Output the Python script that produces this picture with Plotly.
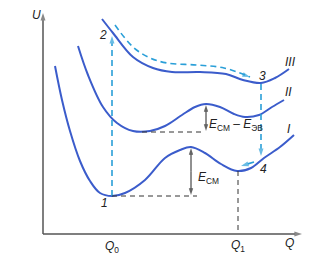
import plotly.graph_objects as go

# Schematic coordinates (x: Q, y: U measured downward as in the picture frame)
curve_I_x = [55, 62, 70, 80, 90, 100, 112, 125, 145, 165, 180, 191, 205, 221, 237, 251, 264, 280, 294]
curve_I_y = [66, 100, 131, 161, 181, 193, 196, 193, 180, 158, 150, 147, 153, 164, 171, 168, 158, 147, 135]

curve_II_x = [78, 88, 103, 117, 133, 150, 165, 182, 195, 206, 220, 234, 245, 259, 272, 284]
curve_II_y = [46, 75, 107, 123, 131, 131, 126, 115, 107, 104, 107, 114, 117, 115, 107, 100]

curve_III_x = [102, 113, 133, 153, 172, 200, 226, 243, 261, 275, 289]
curve_III_y = [19, 33, 57, 68, 72, 72, 74, 80, 83, 78, 69]

path_2_3_x = [115, 133, 150, 167, 197, 224, 250]
path_2_3_y = [25, 47, 58, 63, 65, 68, 77]

Q0, Q1 = 112, 238
pt1_y, pt2_y = 196, 34
pt3_x, pt3_y, pt4_y = 261, 84, 156
barrier_I_top, barrier_II_top, min_II_y = 147, 104, 132

blue = "#3b5ccb"
lblue = "#2a9fd8"
dark = "#333333"

fig = go.Figure()

def line(xs, ys, color, width, dash=None, shape="linear", head=False, head_size=8):
    fig.add_trace(go.Scatter(
        x=xs, y=ys, mode="lines+markers" if head else "lines",
        line=dict(color=color, width=width, dash=dash, shape=shape),
        marker=dict(symbol="arrow", angleref="previous", color=color,
                    size=[0] * (len(xs) - 1) + [head_size], line=dict(width=0)) if head else None,
        hoverinfo="skip", showlegend=False))

for xs, ys in [(curve_I_x, curve_I_y), (curve_II_x, curve_II_y), (curve_III_x, curve_III_y)]:
    line(xs, ys, blue, 2, shape="spline")

# dashed curved path 2 -> 3
line(path_2_3_x, path_2_3_y, lblue, 1.6, dash="6px,4px", shape="spline", head=True)
# vertical 1 -> 2
line([Q0, Q0], [pt1_y, pt2_y + 2], lblue, 1.6, dash="6px,4px", head=True)
# vertical 3 -> 4
line([pt3_x, pt3_x], [pt3_y, pt4_y], lblue, 1.6, dash="6px,4px", head=True)
# relaxation 4 -> Q1
line([254, 241], [162, 166], lblue, 1.6, head=True)

# black dashed guides
line([Q0, 197], [pt1_y, pt1_y], dark, 1, dash="5px,4px")
line([142, 204], [min_II_y, min_II_y], dark, 1, dash="5px,4px")
line([Q1, Q1], [171, 234], dark, 1, dash="5px,4px")

# energy double arrows
mid_I = (barrier_I_top + pt1_y) / 2
line([191, 191], [mid_I, barrier_I_top + 1], "#222222", 1, head=True, head_size=7)
line([191, 191], [mid_I, pt1_y - 1], "#222222", 1, head=True, head_size=7)
mid_II = (barrier_II_top + min_II_y) / 2
line([206, 206], [mid_II, barrier_II_top + 1], "#222222", 1, head=True, head_size=7)
line([206, 206], [mid_II, min_II_y - 1], "#222222", 1, head=True, head_size=7)

# axes
line([43, 43], [234, 13], "#555555", 1.5, head=True, head_size=8)
line([43, 302], [234, 234], "#555555", 1.5, head=True, head_size=8)

ann = []
fnt = dict(family="Liberation Sans, Arial, sans-serif", size=12, color="#222222")
labels = [
    (36, 15, "<i>U</i>"), (289, 243, "<i>Q</i>"),
    (Q0, 247, "<i>Q</i><sub>0</sub>"), (Q1, 246, "<i>Q</i><sub>1</sub>"),
    (104, 203, "<i>1</i>"), (103, 35, "<i>2</i>"), (262, 76, "<i>3</i>"), (263, 169, "<i>4</i>"),
    (289, 129, "<i>I</i>"), (288, 92, "<i>II</i>"), (290, 62, "<i>III</i>"),
]
for x, y, t in labels:
    ann.append(dict(x=x, y=y, xref="x", yref="y", text=t, showarrow=False, font=fnt))
ann.append(dict(x=196, y=178, xref="x", yref="y", text="<i>E</i><sub>СМ</sub>", showarrow=False,
                font=fnt, xanchor="left"))
ann.append(dict(x=207, y=125, xref="x", yref="y", text="<i>E</i><sub>СМ</sub> – <i>E</i><sub>ЭВ</sub>",
                showarrow=False, font=fnt, xanchor="left"))

fig.update_layout(
    width=329, height=262, margin=dict(l=0, r=0, t=0, b=0),
    paper_bgcolor="white", plot_bgcolor="white",
    xaxis=dict(range=[0, 329], visible=False, fixedrange=True),
    yaxis=dict(range=[262, 0], visible=False, fixedrange=True),
    annotations=ann, showlegend=False,
)
fig.write_html("out.html")
